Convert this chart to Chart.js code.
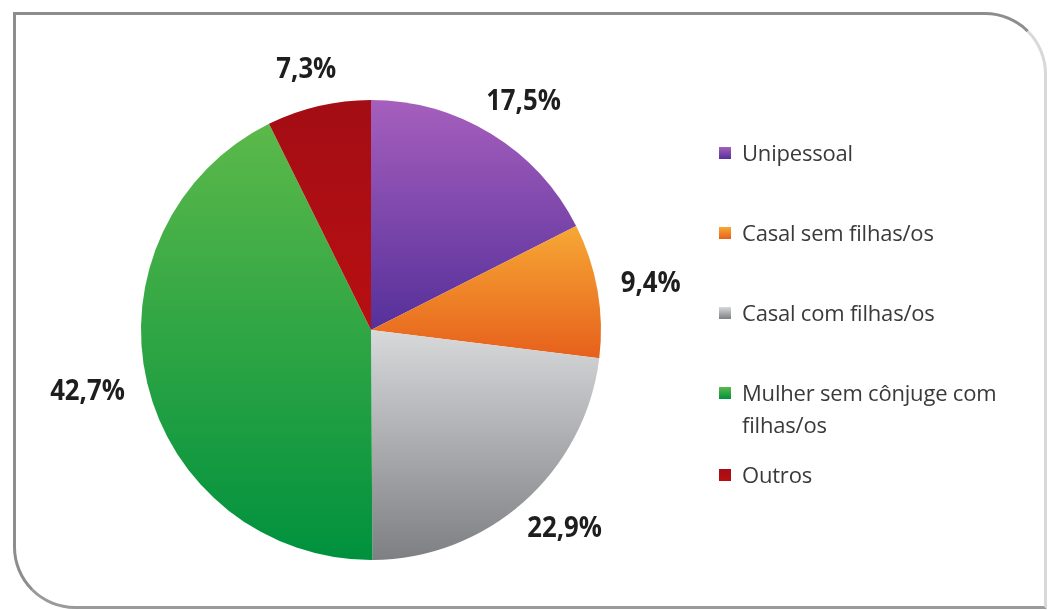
<!DOCTYPE html>
<html>
<head>
<meta charset="utf-8">
<script src="https://cdn.jsdelivr.net/npm/chart.js@4.4.1/dist/chart.umd.min.js"></script>
<style>
  html, body { margin: 0; padding: 0; background: #fff; }
  #wrap { position: relative; width: 1050px; height: 610px; overflow: hidden; }
  #frame {
    position: absolute; left: 13px; top: 12px; width: 1034px; height: 597px;
    border: 3px solid #8d8d8d; border-right-color: #d8d8d8; border-bottom-color: #9a9a9a;
    border-top-right-radius: 62px; border-bottom-left-radius: 62px;
    box-sizing: border-box;
  }
  #chart { position: absolute; left: 0; top: 0; }
  #legend {
    position: absolute; left: 719px; top: 136px; width: 295px;
    font-family: "Open Sans", "Liberation Sans", sans-serif; font-size: 22px; color: #3a3a3a;
    letter-spacing: -0.2px;
  }
  .item { position: relative; padding-left: 23px; line-height: 32px; margin-bottom: 48px; }
  .item .box { position: absolute; left: 0; top: 11px; width: 12px; height: 12px; }
  .item.last { margin-bottom: 0; }
  .item.wrapped { margin-bottom: 18px; }
</style>
</head>
<body>
<div id="wrap">
  <div id="frame"></div>
  <canvas id="chart" width="1050" height="610"></canvas>
  <div id="legend"></div>
</div>
<script>
const categories = ['Unipessoal', 'Casal sem filhas/os', 'Casal com filhas/os', 'Mulher sem cônjuge com filhas/os', 'Outros'];
const shares = [17.5, 9.4, 22.9, 42.7, 7.3];

// top / bottom colours of each slice's vertical gradient
const topColors = ['#a65fbd', '#f7a835', '#d8d9db', '#5cb94a', '#a30d14'];
const bottomColors = ['#55309a', '#e6601c', '#7d7f82', '#00913e', '#b80f12'];

function fmt(v) { return v.toFixed(1).replace('.', ',') + '%'; }

// paint each arc with a gradient spanning its own vertical extent
const gradientFill = {
  id: 'gradientFill',
  beforeDatasetsDraw(chart) {
    const ctx = chart.ctx;
    chart.getDatasetMeta(0).data.forEach((arc, i) => {
      const { x, y, startAngle, endAngle, outerRadius } = arc.getProps(['x', 'y', 'startAngle', 'endAngle', 'outerRadius']);
      let minY = y, maxY = y;
      for (let k = 0; k <= 40; k++) {
        const a = startAngle + (endAngle - startAngle) * k / 40;
        const py = y + Math.sin(a) * outerRadius;
        minY = Math.min(minY, py); maxY = Math.max(maxY, py);
      }
      const g = ctx.createLinearGradient(0, minY, 0, maxY);
      g.addColorStop(0, topColors[i]);
      g.addColorStop(1, bottomColors[i]);
      arc.options.backgroundColor = g;
    });
  }
};

// percentage labels outside the pie
const outsideLabels = {
  id: 'outsideLabels',
  afterDatasetsDraw(chart) {
    const ctx = chart.ctx;
    ctx.save();
    ctx.font = 'bold 28px "Open Sans", "Liberation Sans", sans-serif';
    ctx.fillStyle = '#1e1e1e';
    ctx.textAlign = 'center';
    ctx.textBaseline = 'middle';
    chart.getDatasetMeta(0).data.forEach((arc, i) => {
      const { x, y, startAngle, endAngle, outerRadius } = arc.getProps(['x', 'y', 'startAngle', 'endAngle', 'outerRadius']);
      const mid = (startAngle + endAngle) / 2;
      const txt = fmt(shares[i]);
      const w = ctx.measureText(txt).width * 0.92;
      const h = 26;
      const r = outerRadius + 24;
      const px = x + Math.cos(mid) * r + Math.cos(mid) * w / 2;
      const py = y + Math.sin(mid) * r + Math.sin(mid) * h / 2;
      ctx.save();
      ctx.translate(px, py);
      ctx.scale(0.92, 1);
      ctx.fillText(txt, 0, 0);
      ctx.restore();
    });
    ctx.restore();
  }
};

new Chart(document.getElementById('chart'), {
  type: 'pie',
  data: {
    labels: categories,
    datasets: [{ data: shares, backgroundColor: topColors, borderWidth: 0 }]
  },
  options: {
    responsive: false,
    animation: false,
    layout: { padding: { left: 141, top: 100, right: 449, bottom: 50 } },
    plugins: { legend: { display: false }, tooltip: { enabled: false } }
  },
  plugins: [gradientFill, outsideLabels]
});

// legend
const legend = document.getElementById('legend');
categories.forEach((name, i) => {
  const el = document.createElement('div');
  el.className = 'item' + (i === categories.length - 1 ? ' last' : '') + (name.length > 25 ? ' wrapped' : '');
  const box = document.createElement('span');
  box.className = 'box';
  box.style.background = `linear-gradient(${topColors[i]}, ${bottomColors[i]})`;
  el.appendChild(box);
  el.appendChild(document.createTextNode(name));
  legend.appendChild(el);
});
</script>
</body>
</html>
